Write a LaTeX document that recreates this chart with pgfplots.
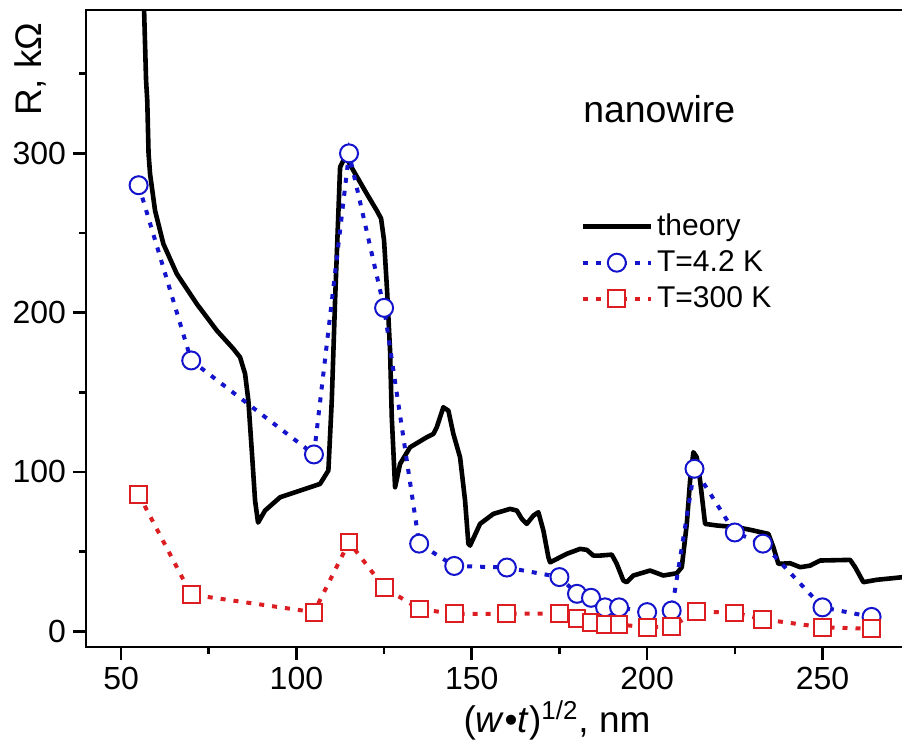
\documentclass[border=0pt]{standalone}
\usepackage{pgfplots}
\pgfplotsset{compat=1.18}
\usepackage{fontspec}
\setmainfont{Liberation Sans}
\definecolor{myblue}{RGB}{20,20,205}
\definecolor{myred}{RGB}{220,30,35}
\begin{document}
\begin{tikzpicture}
\begin{axis}[name=ax, scale only axis, width=468.2pt, height=318.6pt,
  xmin=40, xmax=307, ymin=-10, ymax=390,
  xtick={50,100,150,200,250}, ytick={0,100,200,300},
  minor xtick={75,125,175,225,275}, minor ytick={50,150,250,350},
  tick align=outside, xtick pos=left, ytick pos=left,
  major tick length=6.5pt, minor tick length=3.5pt,
  axis line style={line width=1.3pt},
  every tick/.style={black, line width=1.3pt},
  /pgf/number format/assume math mode=true,
  tick label style={font=\fontsize{16}{19}\selectfont},
  label style={font=\fontsize{18.5}{22}\selectfont},
  xlabel={(\textit{w}•\textit{t})\textsuperscript{1/2}, nm},
  ylabel={R, kΩ},
  xlabel style={at={(axis description cs:0.503,0)}, anchor=base, yshift=-42.6pt},
  ylabel style={at={(axis description cs:-0.0588,0.907)}, anchor=center},
  legend style={at={(axis cs:180.9,264.7)}, anchor=north west, draw=none, fill=none,
    font=\fontsize{15}{18}\selectfont, inner sep=0pt, row sep=2pt, cells={anchor=west}},
  legend image code/.code={\draw[mark repeat=2,mark phase=2,#1] plot coordinates {(0pt,0pt)(17pt,0pt)(34pt,0pt)};},
]
\addplot[black, line width=2.3pt, line join=round] coordinates {
(56.5,395) (57.13,345.7) (57.47,333.1) (57.84,299.9) (58.27,287.0) (59.69,264.1)
(62.06,243.2) (65.88,224.4) (71.59,205.5) (77.29,188.8) (82.02,177.3) (83.93,172.0)
(85.36,161.6) (86.30,144.8) (87.27,113.4) (88.21,82.0) (89.06,68.2) (91.06,75.8)
(95.34,84.1) (101.04,88.3) (106.74,92.5) (109.11,100.9) (110.08,144.8) (111.02,207.6)
(112.45,291.3) (113.39,295.5) (114.16,297.4) (116.24,289.2) (120.06,274.6) (122.91,264.1)
(124.14,259.1) (124.99,245.3) (125.85,213.9) (126.70,176.2) (127.19,134.3) (128.13,90.4)
(129.56,105.1) (132.41,115.5) (137.17,121.8) (139.05,123.9) (140.02,128.1) (141.90,140.6)
(143.33,138.5) (144.75,123.9) (146.66,109.2) (148.09,82.0) (149.03,54.9) (149.51,53.8)
(152.36,67.4) (156.16,73.7) (160.92,76.8) (162.83,75.8) (164.26,70.6) (165.68,67.4)
(167.56,72.6) (168.99,74.7) (170.42,63.2) (171.84,46.5) (172.33,43.3) (174.24,45.4)
(177.09,48.6) (180.88,51.7) (182.79,51.1) (184.67,47.5) (186.58,47.5) (189.92,48.1)
(191.34,42.3) (193.23,31.8) (194.20,30.8) (196.08,35.0) (200.84,38.1) (204.63,35.0)
(208.45,36.4) (209.88,40.2) (211.31,67.4) (212.25,94.6) (213.19,112.4) (214.16,109.2)
(215.10,94.6) (216.53,67.4) (219.86,66.4) (225.56,65.3) (229.36,63.7) (234.58,61.1)
(236.00,52.7) (237.43,42.3) (240.77,42.7) (243.63,40.2) (246.48,41.2) (249.33,44.4)
(257.88,44.8) (259.31,40.2) (261.66,30.8) (265.48,32.3) (272.70,33.9) (280,35)
};
\addlegendentry{theory}
\addplot[myblue, line width=2pt, dash pattern=on 2.5pt off 4pt, mark=*, mark size=4.5pt,
  mark options={solid, fill=white, draw=myblue, line width=1pt}] coordinates {
(55,280) (70,170) (105,111) (115,300) (125,203) (135,55) (145,41) (160,40)
(175,34) (180,23.5) (184,21) (188,15) (192,15) (200,12) (207,13) (213.5,102)
(225,62) (233,55) (250,15) (264,9)
};
\addlegendentry{T=4.2 K}
\addplot[myred, line width=2pt, dash pattern=on 2.5pt off 4pt, mark=square*, mark size=4.2pt,
  mark options={solid, fill=white, draw=myred, line width=1pt}] coordinates {
(55,86) (70,23) (105,12) (115,56) (125,27.5) (135,14) (145,10.9) (160,11)
(175,11) (180,7.8) (184,5.6) (188,4.2) (192,4.2) (200,2.5) (207,2.9) (214,12.5)
(225,11.5) (233,7.5) (250,2.5) (264,1.5)
};
\addlegendentry{T=300 K}
\node[anchor=base west, inner sep=0pt, font=\fontsize{18.7}{22}\selectfont] at (axis cs:181.7,319.5) {nanowire};
\end{axis}
\pgfresetboundingbox
\useasboundingbox ([xshift=-43pt,yshift=-46.65pt]ax.south west) rectangle ([xshift=408pt,yshift=5pt]ax.north west);
\end{tikzpicture}
\end{document}
